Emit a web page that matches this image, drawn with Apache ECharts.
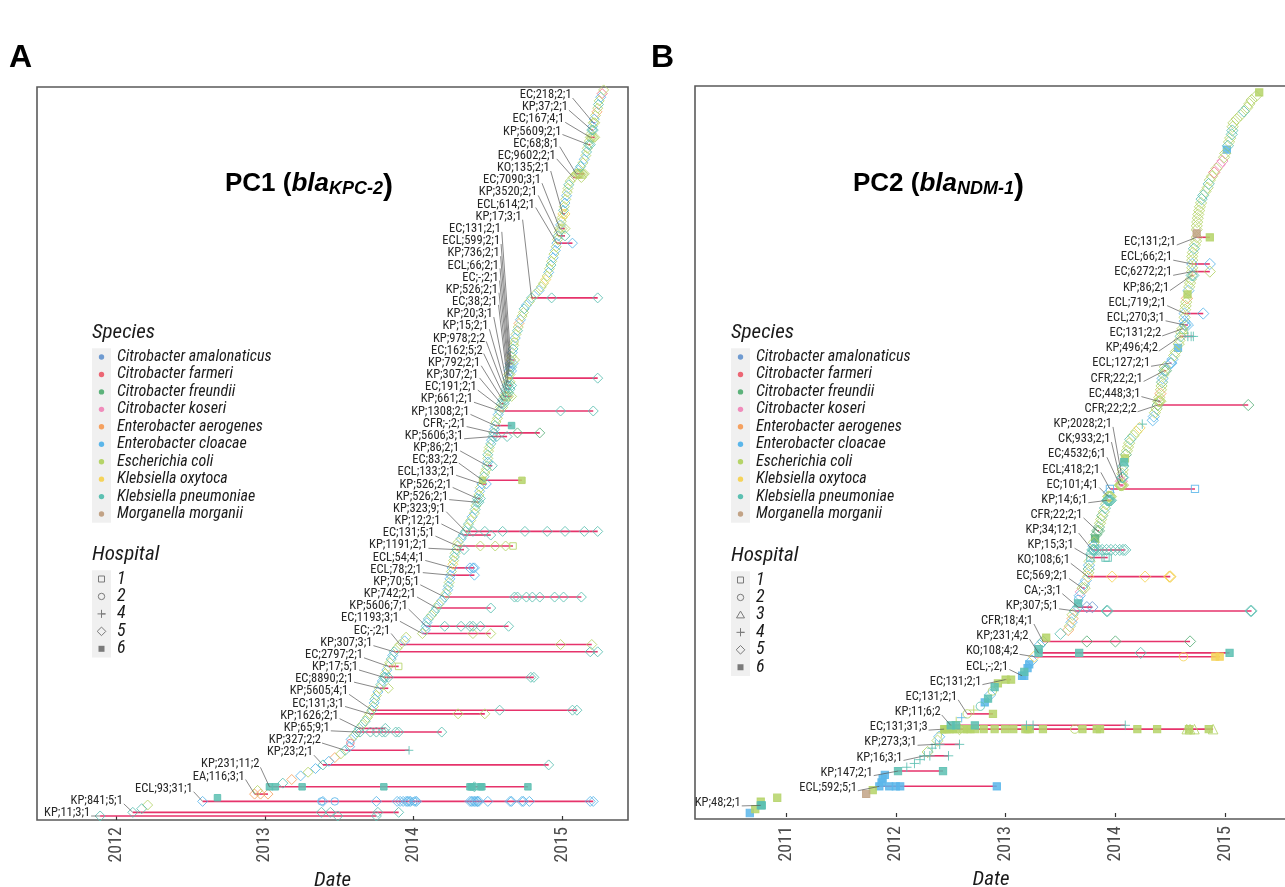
<!DOCTYPE html>
<html lang="en">
<head>
<meta charset="utf-8">
<title>PC1 / PC2</title>
<script src="https://cdn.jsdelivr.net/npm/echarts@6/dist/echarts.min.js"></script>
<style>
html,body{margin:0;padding:0;background:#fff}
#main{width:1285px;height:887px}
</style>
</head>
<body>
<div id="main"></div>
<script type="text/javascript">
// ---- legend data
var speciesNames = ['Citrobacter amalonaticus','Citrobacter farmeri','Citrobacter freundii','Citrobacter koseri',
    'Enterobacter aerogenes','Enterobacter cloacae','Escherichia coli','Klebsiella oxytoca',
    'Klebsiella pneumoniae','Morganella morganii'];
var speciesCodes = 'afrkgleopm';
var speciesColors = ['#6f9bd1','#ec6674','#5cb27a','#f08cbb','#f5a160','#5bb6ea','#b5d468','#f5d35a','#5cc0b2','#c2a386'];
var labelPrefix = {EC:'e', KP:'p', ECL:'l', EA:'g', KO:'o', CFR:'r', CK:'k', CA:'a'};
var hospitalsA = ['1','2','4','5','6'];
var hospitalsB = ['1','2','3','4','5','6'];
var yearTicksA = [2012, 2013, 2014, 2015];
var yearTicksB = [2011, 2012, 2013, 2014, 2015];

// ---- PC1: date of the first isolate of every row, bottom row first
var datesA = [
    2011.89, 2012.11, 2012.17, 2012.21, 2012.58, 2012.68, 2012.93, 2012.95, 2013.03, 2013.12,
    2013.18, 2013.24, 2013.29, 2013.34, 2013.39, 2013.43, 2013.47, 2013.51, 2013.54, 2013.57,
    2013.575, 2013.58, 2013.60, 2013.62, 2013.635, 2013.655, 2013.675, 2013.69, 2013.705, 2013.72,
    2013.73, 2013.735, 2013.74, 2013.75, 2013.76, 2013.77, 2013.78, 2013.79, 2013.80, 2013.81,
    2013.82, 2013.83, 2013.84, 2013.85, 2013.86, 2013.87, 2013.89, 2013.91, 2013.94, 2013.95,
    2014.06, 2014.08, 2014.085, 2014.09, 2014.10, 2014.12, 2014.14, 2014.155, 2014.17, 2014.19,
    2014.21, 2014.22, 2014.23, 2014.235, 2014.24, 2014.245, 2014.25, 2014.255, 2014.26, 2014.265,
    2014.27, 2014.275, 2014.28, 2014.29, 2014.295, 2014.30, 2014.32, 2014.335, 2014.35, 2014.36,
    2014.37, 2014.385, 2014.395, 2014.41, 2014.415, 2014.42, 2014.425, 2014.43, 2014.44, 2014.445,
    2014.45, 2014.46, 2014.465, 2014.475, 2014.48, 2014.49, 2014.495, 2014.50, 2014.50, 2014.50,
    2014.505, 2014.51, 2014.52, 2014.525, 2014.535, 2014.54, 2014.545, 2014.55, 2014.555, 2014.565,
    2014.57, 2014.58, 2014.585, 2014.59, 2014.60, 2014.61, 2014.62, 2014.625, 2014.63, 2014.633,
    2014.636, 2014.64, 2014.643, 2014.647, 2014.65, 2014.655, 2014.66, 2014.665, 2014.67, 2014.675,
    2014.68, 2014.685, 2014.69, 2014.70, 2014.705, 2014.71, 2014.72, 2014.73, 2014.74, 2014.745,
    2014.76, 2014.78, 2014.795, 2014.82, 2014.845, 2014.86, 2014.875, 2014.89, 2014.90, 2014.91,
    2014.915, 2014.925, 2014.93, 2014.94, 2014.945, 2014.955, 2014.96, 2014.965, 2014.97, 2014.975,
    2014.98, 2014.985, 2014.99, 2014.995, 2015.00, 2015.005, 2015.01, 2015.015, 2015.02, 2015.025,
    2015.03, 2015.035, 2015.04, 2015.045, 2015.055, 2015.075, 2015.095, 2015.11, 2015.125, 2015.14,
    2015.15, 2015.16, 2015.165, 2015.17, 2015.178, 2015.184, 2015.19, 2015.195, 2015.20, 2015.205,
    2015.21, 2015.217, 2015.225, 2015.235, 2015.24, 2015.245, 2015.25, 2015.26, 2015.27, 2015.28
];
// species code per row (see speciesCodes), hospital per row
var speciesA = ['pppelpgepp','glelplgepl','fleppepeep','elpeleplpe','leeplpeele','elplpeppel','pelpellelo',
    'epelpelppe','pelepeppel','elepeeplep','eeplprlpee','lpeppepppe','pelpleelpe','elepegleep','lepeleeoel',
    'epelelelep','eeleeopele','leepeeelpe','lepepeeepl','elegepelfe'];
var hospA = ['5555565565','5555555555','2555555555','5555555555','5555555555','5555555555','5555555555',
    '5555555555','5555555555','5565555555','5555555555','5555555555','5555555555','2555555555','5555555555',
    '5555555555','5555555555','5555555555','5555555555','5555555555'];
// labelled clusters, top label first: row of first isolate, dates of the later isolates
var clusterLabelsA = ['EC;218;2;1','KP;37;2;1','EC;167;4;1','KP;5609;2;1','EC;68;8;1','EC;9602;2;1','KO;135;2;1',
    'EC;7090;3;1','KP;3520;2;1','ECL;614;2;1','KP;17;3;1','EC;131;2;1','ECL;599;2;1','KP;736;2;1','ECL;66;2;1',
    'EC;-;2;1','KP;526;2;1','EC;38;2;1','KP;20;3;1','KP;15;2;1','KP;978;2;2','EC;162;5;2','KP;792;2;1',
    'KP;307;2;1','EC;191;2;1','KP;661;2;1','KP;1308;2;1','CFR;-;2;1','KP;5606;3;1','KP;86;2;1','EC;83;2;2',
    'ECL;133;2;1','KP;526;2;1','KP;526;2;1','KP;323;9;1','KP;12;2;1','EC;131;5;1','KP;1191;2;1','ECL;54;4;1',
    'ECL;78;2;1','KP;70;5;1','KP;742;2;1','KP;5606;7;1','EC;1193;3;1','EC;-;2;1','KP;307;3;1','EC;2797;2;1',
    'KP;17;5;1','EC;8890;2;1','KP;5605;4;1','EC;131;3;1','KP;1626;2;1','KP;65;9;1','KP;327;2;2','KP;23;2;1',
    'KP;231;11;2','EA;116;3;1','ECL;93;31;1','KP;841;5;1','KP;11;3;1'];
var clusterRowsA = [190,188,186,184,176,175,165,161,159,157,142,125,124,123,122,121,120,119,118,117,
    116,115,114,113,112,111,107,105,104,96,92,91,87,86,78,77,74,73,68,66,
    60,57,52,50,47,45,41,38,35,29,28,24,23,18,14,8,6,4,1,0];
var clusterLaterA = [
    [2015.22], [2015.21], [2015.20, 2015.21, 2015.22], [2015.19],
    [2015.10, 2015.11, 2015.115, 2015.12, 2015.13, 2015.14, 2015.15], [2015.13], [2015.02],
    [2015.00, 2015.02], [2015.02], [2015.07], [2014.93, 2015.24], [2014.68], [2014.67], [2014.66], [2014.66],
    [2014.65], [2015.24], [2014.65], [2014.64, 2014.66], [2014.65], [2014.64], [2014.62, 2014.63, 2014.64, 2014.66],
    [2014.62], [2014.61], [2014.60], [2014.99, 2015.21], [2014.66], [2014.70, 2014.85], [2014.56, 2014.63],
    [2014.53], [2014.73], [2014.49], [2014.45], [2014.44],
    [2014.40, 2014.48, 2014.60, 2014.75, 2014.90, 2015.02, 2015.15, 2015.24], [2014.52],
    [2014.45, 2014.55, 2014.62, 2014.67], [2014.34], [2014.38, 2014.40, 2014.41], [2014.41],
    [2014.68, 2014.70, 2014.76, 2014.80, 2014.85, 2014.95, 2015.01, 2015.13], [2014.52],
    [2014.21, 2014.32, 2014.38, 2014.40, 2014.45, 2014.64], [2014.40, 2014.52], [2014.99, 2015.20],
    [2015.19, 2015.24], [2013.90], [2013.81, 2013.83, 2014.79, 2014.81], [2013.83], [2014.58, 2015.07, 2015.10],
    [2014.30, 2014.48], [2013.81], [2013.64, 2013.71, 2013.75, 2013.79, 2013.81, 2013.88, 2013.90, 2014.19],
    [2013.97], [2014.91],
    [2013.07, 2013.25, 2013.80, 2014.38, 2014.39, 2014.40, 2014.41, 2014.45, 2014.46, 2014.77],
    [2012.97, 2013.02],
    [2013.38, 2013.39, 2013.47, 2013.75, 2013.89, 2013.91, 2013.93, 2013.95, 2013.96, 2013.97, 2013.98, 2014.00,
     2014.01, 2014.02, 2014.38, 2014.39, 2014.40, 2014.41, 2014.42, 2014.43, 2014.43, 2014.44, 2014.50, 2014.65,
     2014.66, 2014.73, 2014.74, 2014.78, 2015.19, 2015.21],
    [2013.38, 2013.44, 2013.76, 2013.90], [2013.49, 2013.75]
];
// hospitals of the later isolates ('' = same as the first one)
var clusterHospA = ['','','','','','','','','','','','','','','','','','','','','','','','','','',
    '6','','','','','','','','','','5551','','','','','','','','','','1','','','','','','','4','',
    '6666665666','','252555555552555555555555555555','',''];

// ---- PC2
var datesB = [
    2010.67, 2010.72, 2010.77, 2010.77, 2010.92, 2011.73, 2011.79, 2011.85, 2011.87, 2011.88,
    2011.90, 2012.02, 2012.10, 2012.17, 2012.22, 2012.26, 2012.29, 2012.33, 2012.36, 2012.38,
    2012.395, 2012.415, 2012.44, 2012.50, 2012.55, 2012.60, 2012.65, 2012.71, 2012.77, 2012.81,
    2012.84, 2012.86, 2012.88, 2012.90, 2012.93, 2013.00, 2013.15, 2013.17, 2013.20, 2013.215,
    2013.24, 2013.26, 2013.30, 2013.30, 2013.31, 2013.34, 2013.37, 2013.50, 2013.57, 2013.585,
    2013.60, 2013.61, 2013.61, 2013.63, 2013.66, 2013.66, 2013.665, 2013.675, 2013.685, 2013.70,
    2013.715, 2013.73, 2013.75, 2013.753, 2013.757, 2013.76, 2013.765, 2013.772, 2013.78, 2013.79,
    2013.80, 2013.805, 2013.815, 2013.825, 2013.835, 2013.85, 2013.86, 2013.87, 2013.88, 2013.895,
    2013.905, 2013.915, 2013.925, 2013.935, 2013.94, 2013.95, 2014.04, 2014.048, 2014.06, 2014.063,
    2014.067, 2014.072, 2014.08, 2014.087, 2014.095, 2014.105, 2014.115, 2014.125, 2014.135, 2014.165,
    2014.19, 2014.22, 2014.245, 2014.34, 2014.35, 2014.36, 2014.375, 2014.385, 2014.39, 2014.40,
    2014.41, 2014.415, 2014.42, 2014.425, 2014.43, 2014.437, 2014.445, 2014.45, 2014.50, 2014.52,
    2014.535, 2014.55, 2014.57, 2014.577, 2014.585, 2014.594, 2014.60, 2014.61, 2014.63, 2014.63,
    2014.63, 2014.63, 2014.635, 2014.64, 2014.645, 2014.652, 2014.657, 2014.665, 2014.672, 2014.68,
    2014.687, 2014.695, 2014.70, 2014.70, 2014.70, 2014.70, 2014.70, 2014.705, 2014.715, 2014.725,
    2014.735, 2014.74, 2014.74, 2014.74, 2014.741, 2014.745, 2014.75, 2014.755, 2014.763, 2014.77,
    2014.78, 2014.785, 2014.80, 2014.82, 2014.84, 2014.85, 2014.86, 2014.88, 2014.90, 2014.92,
    2014.95, 2014.975, 2014.99, 2015.00, 2015.015, 2015.025, 2015.035, 2015.045, 2015.06, 2015.065,
    2015.068, 2015.075, 2015.105, 2015.14, 2015.17, 2015.20, 2015.22, 2015.24, 2015.28, 2015.31
];
var speciesB = ['lepeemelll','lpppppeppe','leepeleepl','plepeelpll','lopplrepge','lgepapllke','lloerleppp',
    'lerrpreere','pepellekpe','eppereeepe','eoplleeree','geerleeell','eeleepeell','eleeegelee','epeeleeepe',
    'eemeeeeeee','eppeepeefe','kkeelpeepp','eeeepeeeee'];
var hospB = ['6666666666','6644445445','5466442426','6526666666','5566556555','5555562555','5555555155',
    '5565555555','5555515555','5566555555','5545555555','5555555555','5565555555','5555556555','5555555555',
    '5565555555','5555555555','5555655555','5555555556'];
var clusterLabelsB = ['EC;131;2;1','ECL;66;2;1','EC;6272;2;1','KP;86;2;1','ECL;719;2;1','ECL;270;3;1','EC;131;2;2',
    'KP;496;4;2','ECL;127;2;1','CFR;22;2;1','EC;448;3;1','CFR;22;2;2','KP;2028;2;1','CK;933;2;1','EC;4532;6;1',
    'ECL;418;2;1','EC;101;4;1','KP;14;6;1','CFR;22;2;1','KP;34;12;1','KP;15;3;1','KO;108;6;1','EC;569;2;1',
    'CA;-;3;1','KP;307;5;1','CFR;18;4;1','KP;231;4;2','KO;108;4;2','ECL;-;2;1','EC;131;2;1','EC;131;2;1',
    'KP;11;6;2','EC;131;31;3','KP;273;3;1','KP;16;3;1','KP;147;2;1','ECL;592;5;1','KP;48;2;1'];
var clusterRowsB = [151,144,142,141,131,128,127,125,118,116,108,107,88,87,86,85,83,82,74,69,
    67,62,59,54,53,45,42,41,36,35,26,23,22,18,15,11,7,2];
var clusterLaterB = [
    [2014.86], [2014.86], [2014.86], [2014.71], [2014.80], [2014.64, 2014.66], [2014.62],
    [2014.66, 2014.69, 2014.71], [2014.51], [2014.46], [2014.40, 2014.41], [2015.21], [2014.07], [2014.06],
    [2014.045, 2014.05, 2014.055, 2014.06, 2014.07], [2014.725], [2013.94, 2013.95, 2013.96],
    [2013.93, 2013.935, 2013.94, 2013.95, 2013.96], [2013.85],
    [2013.80, 2013.81, 2013.83, 2013.85, 2013.88, 2013.92, 2013.96, 2014.00, 2014.04, 2014.07, 2014.09],
    [2013.91, 2013.93], [2013.97, 2014.27, 2014.49, 2014.50, 2014.50], [2013.72], [2013.74, 2013.79],
    [2013.92, 2013.93, 2015.23, 2015.24], [2013.74, 2014.00, 2014.68], [2013.67, 2014.23, 2015.04],
    [2014.62, 2014.91, 2014.95], [2013.17], [2013.05], [2012.885],
    [2012.55, 2012.72, 2013.19, 2013.25, 2014.09],
    [2012.45, 2012.47, 2012.49, 2012.52, 2012.55, 2012.58, 2012.62, 2012.65, 2012.68, 2012.72, 2012.80, 2012.90,
     2012.995, 2013.07, 2013.18, 2013.20, 2013.22, 2013.34, 2013.63, 2013.70, 2013.83, 2013.86, 2014.20, 2014.38,
     2014.65, 2014.67, 2014.68, 2014.72, 2014.85, 2014.89],
    [2012.40, 2012.58], [2012.31, 2012.48], [2012.43], [2011.94, 2012.00, 2012.04, 2012.92], [2010.78]
];
var clusterHospB = ['6','','','','','','3','444','','','','','','','','1','','','','','11','','','','','',
    '656','266','6','6','6','66444','666665666666666666266666363363','44','44','6','6666','6'];

// ---- drawing
var COND = "'Roboto Condensed','Liberation Sans Narrow','DejaVu Sans Condensed',Roboto,sans-serif";
var ARIAL = "'Liberation Sans',Arial,sans-serif";
var PLUS = 'path://M5,0L5,10M0,5L10,5';
var SHAPES = {'1':['rect',6.5,false],'2':['circle',7.5,false],'3':['triangle',8.5,false],'4':[PLUS,8.5,false],
    '5':['diamond',10,false],'6':['rect',6.5,true]};

var panels = [
    {dates:datesA, species:speciesA.join(''), hosp:hospA.join(''), labels:clusterLabelsA, rows:clusterRowsA,
        later:clusterLaterA, lhosp:clusterHospA, scale:1, top:95, step:12.17, gap:10, margin:30},
    {dates:datesB, species:speciesB.join(''), hosp:hospB.join(''), labels:clusterLabelsB, rows:clusterRowsB,
        later:clusterLaterB, lhosp:clusterHospB, scale:1.12, top:242, step:15.16, gap:10, margin:20}
];

function mk(d, r, sp, h, scale) {
    var c = speciesColors[speciesCodes.indexOf(sp)];
    var s = SHAPES[h] || SHAPES['5'];
    return {value:[d, r], symbol:s[0], symbolSize:s[1] * scale,
        itemStyle:{color:s[2] ? c : 'rgba(255,255,255,0)', borderColor:c, borderWidth:1}};
}

var series = [];
panels.forEach(function (p, gi) {
    var sp = p.species.split('');
    p.labels.forEach(function (lab, i) { sp[p.rows[i]] = labelPrefix[lab.split(';')[0]]; });
    var pts = speciesNames.map(function () { return []; });
    var segs = [];
    p.dates.forEach(function (d, r) {
        var s = sp[r] || 'e';
        pts[speciesCodes.indexOf(s)].push(mk(d, r, s, p.hosp.charAt(r) || '5', p.scale));
    });
    p.labels.forEach(function (lab, i) {
        var r = p.rows[i], s = sp[r], hs = p.lhosp[i] || '';
        p.later[i].forEach(function (d, j) {
            pts[speciesCodes.indexOf(s)].push(mk(d, r, s, hs.charAt(j) || p.hosp.charAt(r) || '5', p.scale));
        });
        segs.push([p.dates[r], r, Math.max.apply(null, p.later[i])]);
    });
    series.push({
        type:'custom', xAxisIndex:gi, yAxisIndex:gi, silent:true, z:1, data:segs,
        encode:{x:[0, 2], y:1},
        renderItem:function (params, api) {
            var a = api.coord([api.value(0), api.value(1)]);
            var b = api.coord([api.value(2), api.value(1)]);
            return {type:'line', shape:{x1:a[0], y1:a[1], x2:b[0], y2:b[1]},
                style:{stroke:'#e6336b', lineWidth:1.6}};
        }
    });
    speciesNames.forEach(function (n, k) {
        series.push({type:'scatter', name:n, xAxisIndex:gi, yAxisIndex:gi, silent:true, z:3,
            itemStyle:{color:speciesColors[k], opacity:0.85}, data:pts[k]});
    });
});

function xAxisFor(gi, min, max, ticks) {
    return {type:'value', gridIndex:gi, min:min, max:max, splitLine:{show:false},
        axisLine:{show:false},
        axisTick:{show:true, customValues:ticks, length:4, lineStyle:{color:'#333', width:1.2}},
        axisLabel:{customValues:ticks, rotate:90, margin:7, fontSize:18, color:'#4d4d4d', fontFamily:COND,
            formatter:function (v) { return String(Math.round(v)); }},
        name:'Date', nameLocation:'middle', nameGap:47,
        nameTextStyle:{fontSize:21, fontStyle:'italic', color:'#1a1a1a', fontFamily:COND}};
}

var chart = echarts.init(document.getElementById('main'));
chart.setOption({
    animation:false,
    backgroundColor:'#ffffff',
    grid:[
        {left:37, top:87, width:591, height:733, show:true, borderColor:'#5a5a5a', borderWidth:1.6,
            backgroundColor:'transparent', containLabel:false, outerBoundsMode:'none'},
        {left:695, top:86, width:592, height:733, show:true, borderColor:'#5a5a5a', borderWidth:1.6,
            backgroundColor:'transparent', containLabel:false, outerBoundsMode:'none'}
    ],
    xAxis:[xAxisFor(0, 2011.465, 2015.444, yearTicksA), xAxisFor(1, 2010.171, 2015.563, yearTicksB)],
    yAxis:[
        {type:'value', gridIndex:0, min:-1.1, max:199.8, show:false},
        {type:'value', gridIndex:1, min:-1.57, max:190.68, show:false}
    ],
    series:series
});

// ---- annotations: titles, legends, cluster labels
var mctx = document.createElement('canvas').getContext('2d');
function tw(style, weight, size, family, s) {
    mctx.font = style + ' ' + weight + ' ' + size + 'px ' + family;
    return mctx.measureText(s).width;
}
function txt(x, y, s, o) {
    return {type:'text', x:x, y:y, z:20, silent:true, style:{text:s, fill:o.fill || '#1a1a1a',
        fontSize:o.size, fontStyle:o.style || 'normal', fontWeight:o.weight || 'normal',
        fontFamily:o.family || COND, align:o.align || 'left', verticalAlign:o.va || 'middle'}};
}

function titleEls(x, base, main, sub) {
    var els = [], cx = x;
    var parts = [[main + ' (', 'normal', 26, 0], ['bla', 'italic', 26, 0], [sub, 'italic', 18, 9], [')', 'normal', 30, 1]];
    parts.forEach(function (pt) {
        els.push(txt(cx, base + pt[3], pt[0], {size:pt[2], style:pt[1], weight:'bold', family:ARIAL, va:'alphabetic', fill:'#000'}));
        cx += tw(pt[1], 'bold', pt[2], ARIAL, pt[0]);
    });
    return els;
}

function hospSymbol(h, cx, cy) {
    var st = {stroke:'#7a7a7a', fill:'none', lineWidth:1};
    if (h === '1') return {type:'rect', shape:{x:cx - 3, y:cy - 3, width:6, height:6}, style:st, z:20};
    if (h === '2') return {type:'circle', shape:{cx:cx, cy:cy, r:3.2}, style:st, z:20};
    if (h === '3') return {type:'polygon', shape:{points:[[cx, cy - 3.8], [cx + 4, cy + 3], [cx - 4, cy + 3]]}, style:st, z:20};
    if (h === '4') return {type:'polyline', shape:{points:[[cx - 4, cy], [cx + 4, cy], [cx, cy], [cx, cy - 4], [cx, cy + 4]]}, style:st, z:20};
    if (h === '5') return {type:'polygon', shape:{points:[[cx, cy - 4.3], [cx + 4.3, cy], [cx, cy + 4.3], [cx - 4.3, cy]]}, style:st, z:20};
    return {type:'rect', shape:{x:cx - 3, y:cy - 3, width:6, height:6}, style:{fill:'#7a7a7a'}, z:20};
}

function legendEls(x0, spTop, hTop, hosps) {
    var els = [], row = 17.45, kw = 19;
    els.push(txt(x0, spTop - 24, 'Species', {size:21, style:'italic'}));
    els.push({type:'rect', shape:{x:x0, y:spTop - row / 2, width:kw, height:row * speciesNames.length}, style:{fill:'#f0f0f0'}, z:19});
    speciesNames.forEach(function (n, i) {
        var cy = spTop + i * row;
        els.push({type:'circle', shape:{cx:x0 + kw / 2, cy:cy, r:2.7}, style:{fill:speciesColors[i]}, z:20});
        els.push(txt(x0 + 25, cy, n, {size:16, style:'italic'}));
    });
    els.push(txt(x0, hTop - 24, 'Hospital', {size:21, style:'italic'}));
    els.push({type:'rect', shape:{x:x0, y:hTop - row / 2, width:kw, height:row * hosps.length}, style:{fill:'#f0f0f0'}, z:19});
    hosps.forEach(function (h, i) {
        var cy = hTop + i * row;
        els.push(hospSymbol(h, x0 + kw / 2, cy));
        els.push(txt(x0 + 25, cy, h, {size:18, style:'italic'}));
    });
    return els;
}

function dateAt(dates, r) {
    if (r <= 0) return dates[0];
    if (r >= dates.length - 1) return dates[dates.length - 1];
    var i = Math.floor(r), f = r - i;
    return dates[i] * (1 - f) + dates[i + 1] * f;
}

function labelEls(p, gi) {
    var els = [], prev = Infinity;
    p.labels.forEach(function (lab, i) {
        var r = p.rows[i];
        var pt = chart.convertToPixel({gridIndex:gi}, [p.dates[r], r]);
        var sy = p.top + i * p.step;
        var rowAt = chart.convertFromPixel({gridIndex:gi}, [0, sy])[1];
        var curveX = chart.convertToPixel({gridIndex:gi}, [dateAt(p.dates, rowAt), 0])[0];
        var right = Math.min(prev, pt[0] - p.gap, curveX - p.margin);
        prev = right;
        els.push({type:'line', silent:true, z:15, shape:{x1:right + 1, y1:sy + 3, x2:pt[0], y2:pt[1]},
            style:{stroke:'#555', lineWidth:0.7}});
        els.push(txt(right, sy, lab, {size:12.5, align:'right', fill:'#262626'}));
    });
    return els;
}

var graphics = [];
graphics.push(txt(9, 42, 'A', {size:32, weight:'bold', family:ARIAL, va:'alphabetic', fill:'#000'}));
graphics.push(txt(651, 42, 'B', {size:32, weight:'bold', family:ARIAL, va:'alphabetic', fill:'#000'}));
graphics = graphics.concat(titleEls(225, 171, 'PC1', 'KPC-2'));
graphics = graphics.concat(titleEls(853, 171, 'PC2', 'NDM-1'));
graphics = graphics.concat(legendEls(92, 357, 579, hospitalsA));
graphics = graphics.concat(legendEls(731, 357, 580, hospitalsB));
graphics = graphics.concat(labelEls(panels[0], 0));
graphics = graphics.concat(labelEls(panels[1], 1));
chart.setOption({graphic:{elements:graphics}});
</script>
</body>
</html>
